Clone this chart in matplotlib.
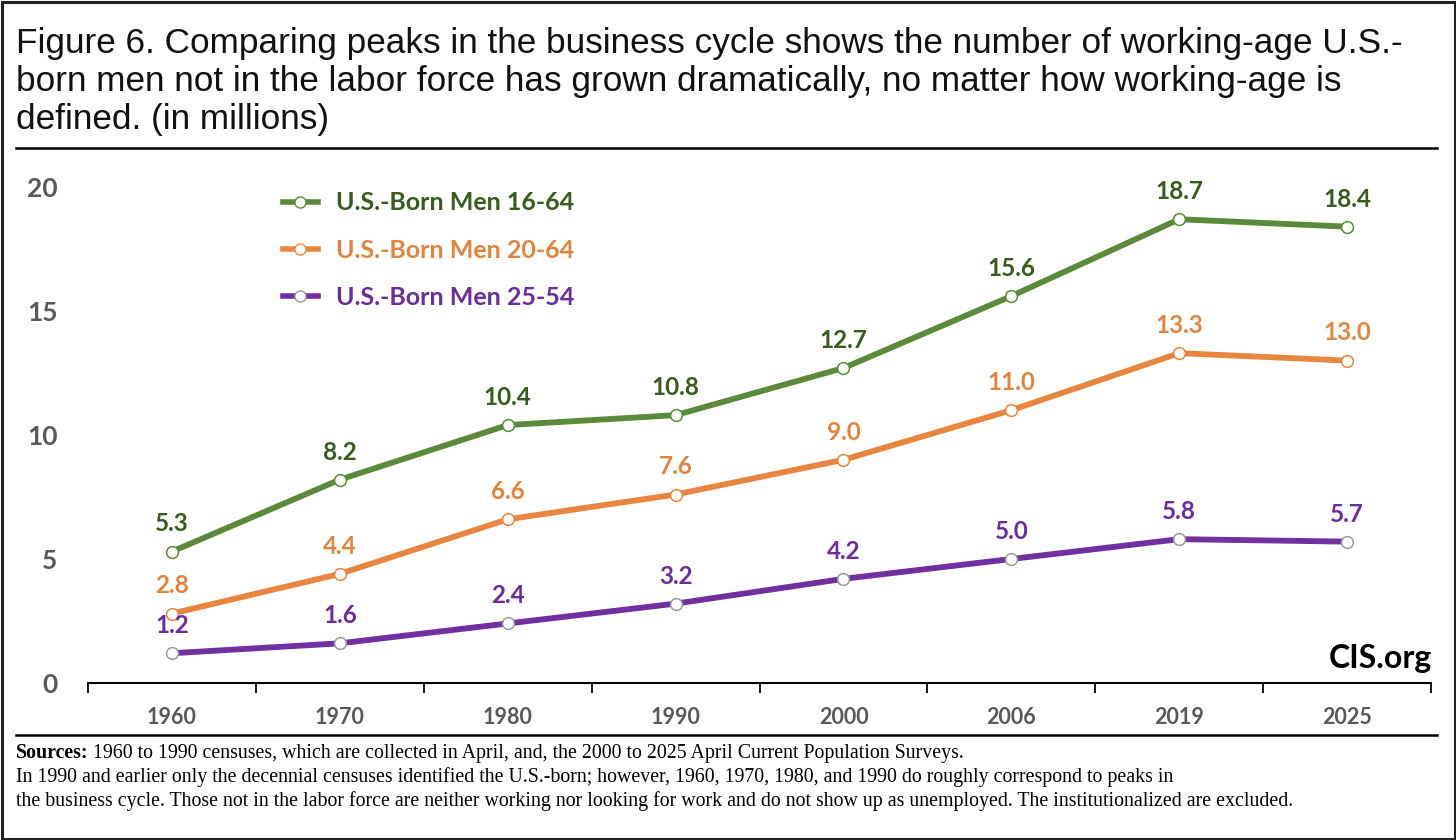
import matplotlib
matplotlib.use("Agg")
import matplotlib.pyplot as plt
from matplotlib.lines import Line2D
from matplotlib.patches import Rectangle

years = ["1960", "1970", "1980", "1990", "2000", "2006", "2019", "2025"]
men_16_64 = [5.3, 8.2, 10.4, 10.8, 12.7, 15.6, 18.7, 18.4]
men_20_64 = [2.8, 4.4, 6.6, 7.6, 9.0, 11.0, 13.3, 13.0]
men_25_54 = [1.2, 1.6, 2.4, 3.2, 4.2, 5.0, 5.8, 5.7]
labels = ["U.S.-Born Men 16-64", "U.S.-Born Men 20-64", "U.S.-Born Men 25-54"]

line_colors = ["#5b8a3a", "#e8863f", "#7030a0"]
edge_colors = ["#5b8a3a", "#e8863f", "#9a9a9a"]
text_colors = ["#3a5a1e", "#e2843d", "#6a2d9c"]
GRAY = "#595959"
FONT = "Lato"

title_lines = [
    "Figure 6. Comparing peaks in the business cycle shows the number of working-age U.S.-",
    "born men not in the labor force has grown dramatically, no matter how working-age is",
    "defined. (in millions)",
]
source_lines = [
    "1960 to 1990 censuses, which are collected in April, and, the 2000 to 2025 April Current Population Surveys.",
    "In 1990 and earlier only the decennial censuses identified the U.S.-born; however, 1960, 1970, 1980, and 1990 do roughly correspond to peaks in",
    "the business cycle. Those not in the labor force are neither working nor looking for work and do not show up as unemployed. The institutionalized are excluded.",
]

W, H = 1456, 840
fig = plt.figure(figsize=(W / 100, H / 100), dpi=100)
ax = fig.add_axes([88 / W, (H - 683) / H, (1431 - 88) / W, (683 - 187) / H])

x = list(range(len(years)))
handles = []
for vals, lc, ec, tc in zip([men_16_64, men_20_64, men_25_54], line_colors, edge_colors, text_colors):
    ax.plot(x, vals, color=lc, linewidth=4.2, marker="o", markersize=8.5,
            markerfacecolor="white", markeredgecolor=ec, markeredgewidth=1.1,
            zorder=3, clip_on=False)
    for xi, v in zip(x, vals):
        ax.annotate(f"{v:.1f}", (xi, v), xytext=(0, 14.5), textcoords="offset points",
                    ha="center", va="baseline", fontsize=17.5, fontweight="bold",
                    color=tc, family=FONT, annotation_clip=False)
    handles.append(Line2D([], [], color=lc, linewidth=4.0, marker="o", markersize=8,
                          markerfacecolor="white", markeredgecolor=ec))

ax.set_xlim(-0.5, len(years) - 0.5)
ax.set_ylim(0, 20)
ax.set_yticks([0, 5, 10, 15, 20])
ax.set_xticks(x)
ax.set_xticklabels(years)
ax.set_xticks([i - 0.5 for i in range(len(years) + 1)], minor=True)
ax.tick_params(axis="x", which="major", length=0, pad=17, labelsize=15.5, labelcolor=GRAY)
ax.tick_params(axis="x", which="minor", length=7, width=1.3, direction="out", color="black")
ax.tick_params(axis="y", length=0, pad=22, labelsize=19, labelcolor=GRAY)
for lbl in ax.get_xticklabels() + ax.get_yticklabels():
    lbl.set_fontweight("bold")
    lbl.set_family(FONT)
for side in ["top", "right", "left"]:
    ax.spines[side].set_visible(False)
ax.spines["bottom"].set_linewidth(1.5)

leg = fig.legend(handles, labels, loc="upper left", bbox_to_anchor=(260 / W, 1 - 169 / H),
                 frameon=False, handlelength=1.4, handletextpad=0.75, labelspacing=0.97,
                 prop={"family": FONT, "weight": "bold", "size": 18})
for txt, tc in zip(leg.get_texts(), text_colors):
    txt.set_color(tc)

for i, line in enumerate(title_lines):
    fig.text(16 / W, 1 - (53 + 38 * i) / H, line, ha="left", va="baseline", fontsize=25.3,
             family="Liberation Sans", color="#111111")
fig.add_artist(Line2D([16 / W, 1437 / W], [1 - 148 / H] * 2, color="black", linewidth=1.8))
fig.add_artist(Line2D([16 / W, 1437 / W], [1 - 735 / H] * 2, color="black", linewidth=1.8))

fig.text(1432 / W, 1 - 668 / H, "CIS.org", ha="right", va="baseline", fontsize=23,
         fontweight="bold", family=FONT, color="black")

y0 = 758
t = fig.text(16 / W, 1 - y0 / H, "Sources:", ha="left", va="baseline", fontsize=14.3,
             fontweight="bold", family="Liberation Serif")
fig.canvas.draw()
bb = t.get_window_extent()
fig.text((bb.x1 + 5) / W, 1 - y0 / H, source_lines[0], ha="left", va="baseline",
         fontsize=14.3, family="Liberation Serif")
for i, line in enumerate(source_lines[1:], start=1):
    fig.text(16 / W, 1 - (y0 + 24 * i) / H, line, ha="left", va="baseline",
             fontsize=14.3, family="Liberation Serif")

fig.add_artist(Rectangle((1.5 / W, 1.5 / H), (W - 3) / W, (H - 3) / H, transform=fig.transFigure,
                         fill=False, edgecolor="#222222", linewidth=2.2))

fig.savefig("out.png", dpi=100)
